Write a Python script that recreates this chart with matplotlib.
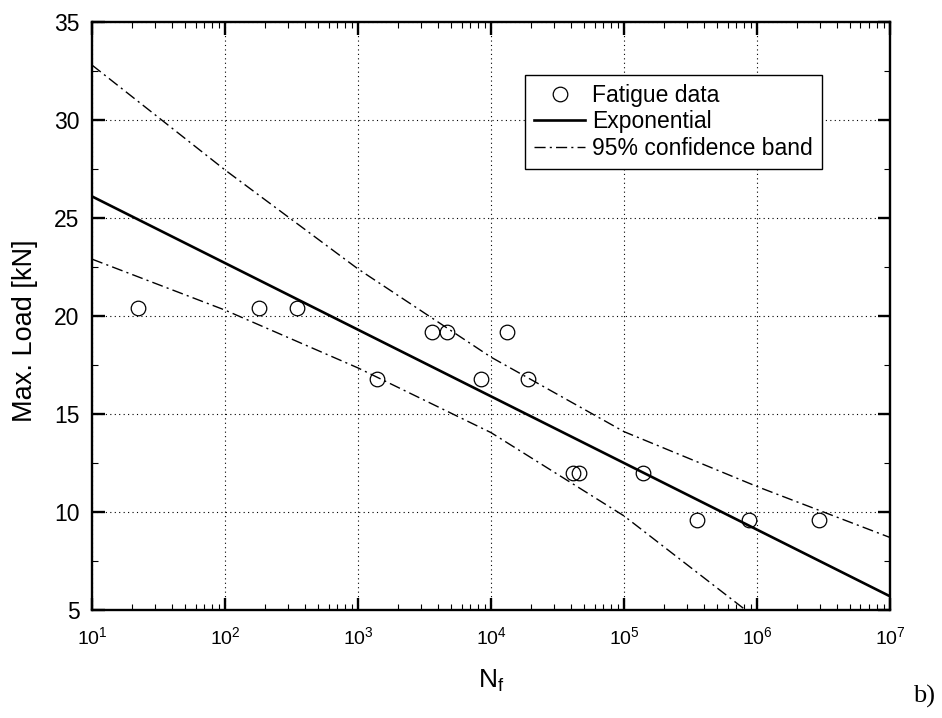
# S-N curve, fatigue data with exponential fit and 95% confidence band
import numpy as np
import matplotlib
matplotlib.use('Agg')
import matplotlib.pyplot as plt

plt.rcParams['font.family'] = ['Liberation Sans', 'DejaVu Sans']
plt.rcParams['mathtext.default'] = 'regular'

# fatigue test data: cycles to failure, max load [kN]
n_cycles = [22, 180, 350, 1380, 3620, 4640, 8400, 13300, 19000,
            41600, 46000, 140000, 355000, 875000, 2930000]
max_load = [20.4, 20.4, 20.4, 16.8, 19.2, 19.2, 16.8, 19.2, 16.8,
            12.0, 12.0, 12.0, 9.6, 9.6, 9.6]

# fitted curve and band, read at each decade
fit_n = [1e1, 1e2, 1e3, 1e4, 1e5, 1e6, 1e7]
fit_load = [26.1, 22.7, 19.3, 15.9, 12.5, 9.1, 5.7]
upper_load = [32.8, 27.45, 22.4, 17.9, 14.1, 11.3, 8.7]
lower_n = [1e1, 1e2, 1e3, 1e4, 1e5, 1e6]
lower_load = [22.9, 20.3, 17.35, 14.05, 9.8, 4.55]

fig = plt.figure(figsize=(9.42, 7.18), dpi=100, facecolor='white')
ax = fig.add_axes([0.0977, 0.1504, 0.8471, 0.819])

dashdot = (0, (8, 3, 1.5, 3))
ax.plot(n_cycles, max_load, 'o', mfc='none', mec='black', ms=10.5, mew=0.9,
        label='Fatigue data', zorder=4)
ax.plot(fit_n, fit_load, '-', color='black', lw=1.9, label='Exponential', zorder=3)
ax.plot(fit_n, upper_load, color='black', lw=1.0, ls=dashdot,
        label='95% confidence band', zorder=3)
ax.plot(lower_n, lower_load, color='black', lw=1.0, ls=dashdot, zorder=3)

ax.set_xscale('log')
ax.set_xlim(1e1, 1e7)
ax.set_ylim(5, 35)
ax.set_yticks([5, 10, 15, 20, 25, 30, 35])
ax.set_yticks([7.5, 12.5, 17.5, 22.5, 27.5, 32.5], minor=True)

ax.grid(True, which='major', ls=(0, (1, 3)), color='black', lw=0.8)
for s in ax.spines.values():
    s.set_linewidth(1.7)
ax.tick_params(which='major', direction='in', length=9, width=1.7,
               top=True, right=True)
ax.tick_params(which='minor', direction='in', length=4, width=0.8,
               top=True, right=True)
ax.tick_params(axis='y', labelsize=16.5, pad=9)
ax.tick_params(axis='x', labelsize=14, pad=12)

ax.set_ylabel('Max. Load [kN]', fontsize=19.5)
ax.yaxis.set_label_coords(-0.068, 0.4745)
ax.set_xlabel('N$_f$', fontsize=19, labelpad=14)

leg = ax.legend(loc='upper left', bbox_to_anchor=(0.543, 0.910), fontsize=16.5,
                frameon=True, fancybox=False, shadow=False, handlelength=2.2,
                handletextpad=0.3, labelspacing=0.15, borderpad=0.4,
                borderaxespad=0)
leg.get_frame().set_edgecolor('black')
leg.get_frame().set_linewidth(1.0)
leg.get_frame().set_alpha(1)

fig.text(0.993, 0.022, 'b)', fontsize=19, family='Liberation Serif',
         ha='right', va='baseline')

plt.savefig('out.png', dpi=100)
